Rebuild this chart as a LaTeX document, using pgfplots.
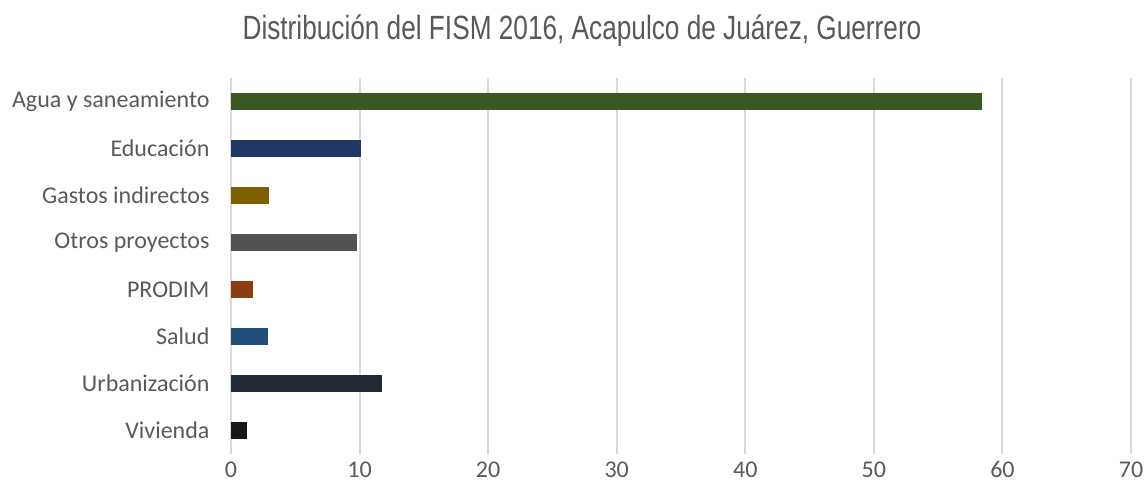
\documentclass[border=0pt]{standalone}
\usepackage{pgfplots}
\pgfplotsset{compat=1.18}
\usepackage{fontspec}
\setmainfont{Carlito}
\newfontfamily\titlefont[FakeStretch=0.78]{Liberation Sans}
\definecolor{txt}{HTML}{595959}
\definecolor{grd}{HTML}{D9D9D9}
\definecolor{c1}{HTML}{3B5724}
\definecolor{c2}{HTML}{1F3864}
\definecolor{c3}{HTML}{7F6000}
\definecolor{c4}{HTML}{525252}
\definecolor{c5}{HTML}{8B3E10}
\definecolor{c6}{HTML}{1F4E79}
\definecolor{c7}{HTML}{222A35}
\definecolor{c8}{HTML}{181818}
\begin{document}
\begin{tikzpicture}[x=1pt,y=1pt]
\path[use as bounding box] (0,0) rectangle (1148,496);
\node[text=txt,font=\titlefont\fontsize{33.6}{40}\selectfont] at (582,465) {Distribución del FISM 2016, Acapulco de Juárez, Guerrero};
\begin{axis}[
  at={(231pt,42pt)}, anchor=south west,
  scale only axis, width=900pt, height=376pt,
  xmin=0, xmax=70, ymin=-0.5, ymax=7.5, y dir=reverse,
  xtick={0,10,...,70}, ytick={0,...,7},
  yticklabels={Agua y saneamiento,Educación,Gastos indirectos,Otros proyectos,PRODIM,Salud,Urbanización,Vivienda},
  xmajorgrids, grid style={grd,line width=2pt},
  axis line style={draw=none}, major tick length=0pt,
  tick label style={text=txt,font=\fontsize{24}{28}\selectfont},
  /pgf/number format/assume math mode=true,
  xticklabel style={yshift=-4pt},
  yticklabel style={xshift=-18pt},
  xbar, bar shift=0pt, bar width=17pt,
]
\addplot[fill=c1,draw=none] coordinates {(58.4,0)};
\addplot[fill=c2,draw=none] coordinates {(10.1,1)};
\addplot[fill=c3,draw=none] coordinates {(2.95,2)};
\addplot[fill=c4,draw=none] coordinates {(9.8,3)};
\addplot[fill=c5,draw=none] coordinates {(1.7,4)};
\addplot[fill=c6,draw=none] coordinates {(2.9,5)};
\addplot[fill=c7,draw=none] coordinates {(11.75,6)};
\addplot[fill=c8,draw=none] coordinates {(1.25,7)};
\end{axis}
\end{tikzpicture}
\end{document}
